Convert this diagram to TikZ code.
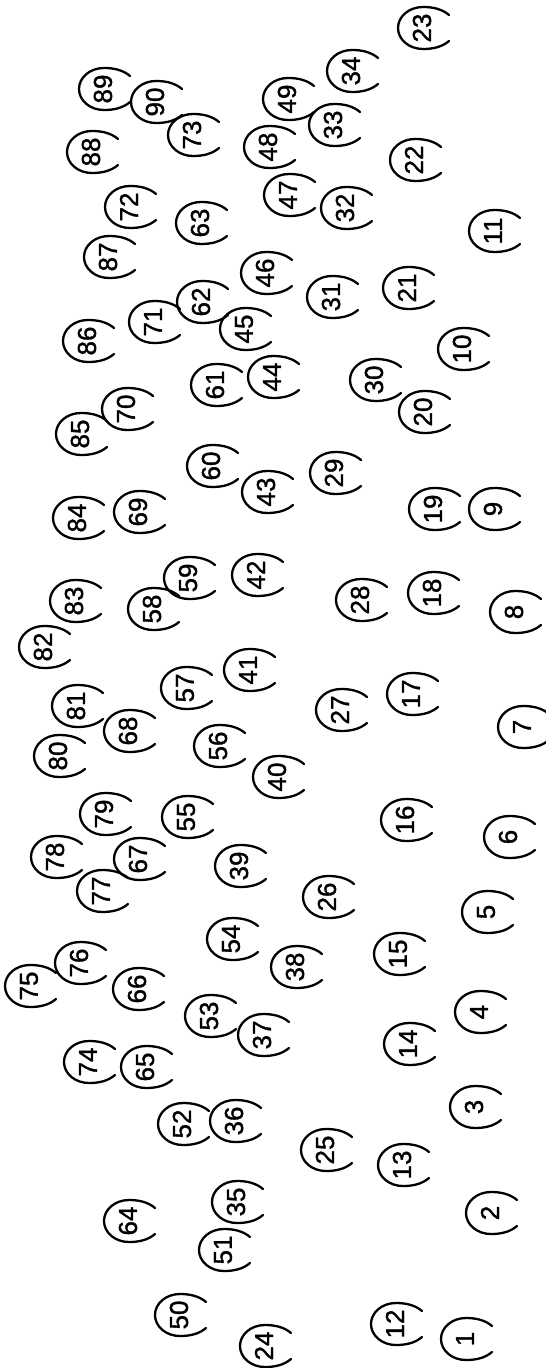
\documentclass[tikz,border=0pt]{standalone}
\usepackage{fontspec}
\setmainfont{Liberation Sans}
\newfontfamily\reffont[FakeBold=1.2]{Liberation Sans}
\tikzset{
  % a reference numeral, set on its side
  refnum/.style={font=\reffont\fontsize{26}{26}\selectfont, rotate=90, inner sep=0pt},
  % the open loop round each numeral (image units, y runs down)
  refloop/.style={draw=black, line width=2.3pt, line cap=round},
  tearloop/.pic={
    \draw[refloop] (27,-13) .. controls (20,-19) and (11,-21) .. (1,-21)
      .. controls (-13,-21) and (-24,-11.6) .. (-24,0)
      .. controls (-24,11.6) and (-13,21) .. (1,21)
      .. controls (11,21) and (20,19) .. (27,13);
  },
}
\begin{document}
\begin{tikzpicture}[x=1pt, y=-1pt]
\useasboundingbox (0,0) rectangle (546,1368);

% ============================ rightmost row ================================
\foreach \n/\px/\py in {1/465/1339, 2/490/1213, 3/474/1107, 4/479/1012,
    5/486/912, 6/508/837, 7/522/727, 8/514/612, 9/493/509, 10/462/349,
    11/493/231} {
  \node[refnum] (r\n) at (\px,\py) {\n};
  \pic at (r\n) {tearloop};
}

% ============================== second row =================================
\foreach \n/\px/\py in {12/395/1324, 13/402/1165, 14/408/1044, 15/398/954,
    16/405/820, 17/411/694, 18/432/593, 19/433/509, 20/423/412, 21/407/288,
    22/414/160, 23/422/28} {
  \node[refnum] (r\n) at (\px,\py) {\n};
  \pic at (r\n) {tearloop};
}

% ============================== third row ==================================
\foreach \n/\px/\py in {24/264/1346, 25/325/1150, 26/327/897, 27/340/710,
    28/360/600, 29/334/473, 30/374/380, 31/331/297, 32/345/208, 33/333/125,
    34/351/71} {
  \node[refnum] (r\n) at (\px,\py) {\n};
  \pic at (r\n) {tearloop};
}

% ============================== fourth row =================================
\foreach \n/\px/\py in {35/236/1202, 36/234/1121, 37/262/1035, 38/295/967,
    39/239/866, 40/277/777, 41/248/670, 42/256/575, 43/266/492, 44/272/377,
    45/244/329, 46/265/273, 47/288/195, 48/268/147, 49/287/99} {
  \node[refnum] (r\n) at (\px,\py) {\n};
  \pic at (r\n) {tearloop};
}

% ============================== fifth row ==================================
\foreach \n/\px/\py in {50/179/1315, 51/223/1250, 52/182/1124, 53/209/1016,
    54/231/939, 55/186/817, 56/218/746, 57/185/688, 58/152/609, 59/188/578,
    60/211/466, 61/215/385, 62/201/302, 63/200/223} {
  \node[refnum] (r\n) at (\px,\py) {\n};
  \pic at (r\n) {tearloop};
}

% ============================== sixth row ==================================
\foreach \n/\px/\py in {64/128/1221, 65/145/1067, 66/137/989, 67/138/859,
    68/128/731, 69/138/512, 70/126/409, 71/153/322, 72/129/207, 73/192/135} {
  \node[refnum] (r\n) at (\px,\py) {\n};
  \pic at (r\n) {tearloop};
}

% ============================ leftmost row =================================
\foreach \n/\px/\py in {74/88/1062, 75/29/986, 76/79/963, 77/101/891,
    78/55/857, 79/104/814, 80/58/756, 81/76/706, 82/43/647, 83/74/601,
    84/77/518, 85/80/434, 86/87/341, 87/108/257, 88/91/152, 89/103/89,
    90/155/102} {
  \node[refnum] (r\n) at (\px,\py) {\n};
  \pic at (r\n) {tearloop};
}

\end{tikzpicture}
\end{document}
